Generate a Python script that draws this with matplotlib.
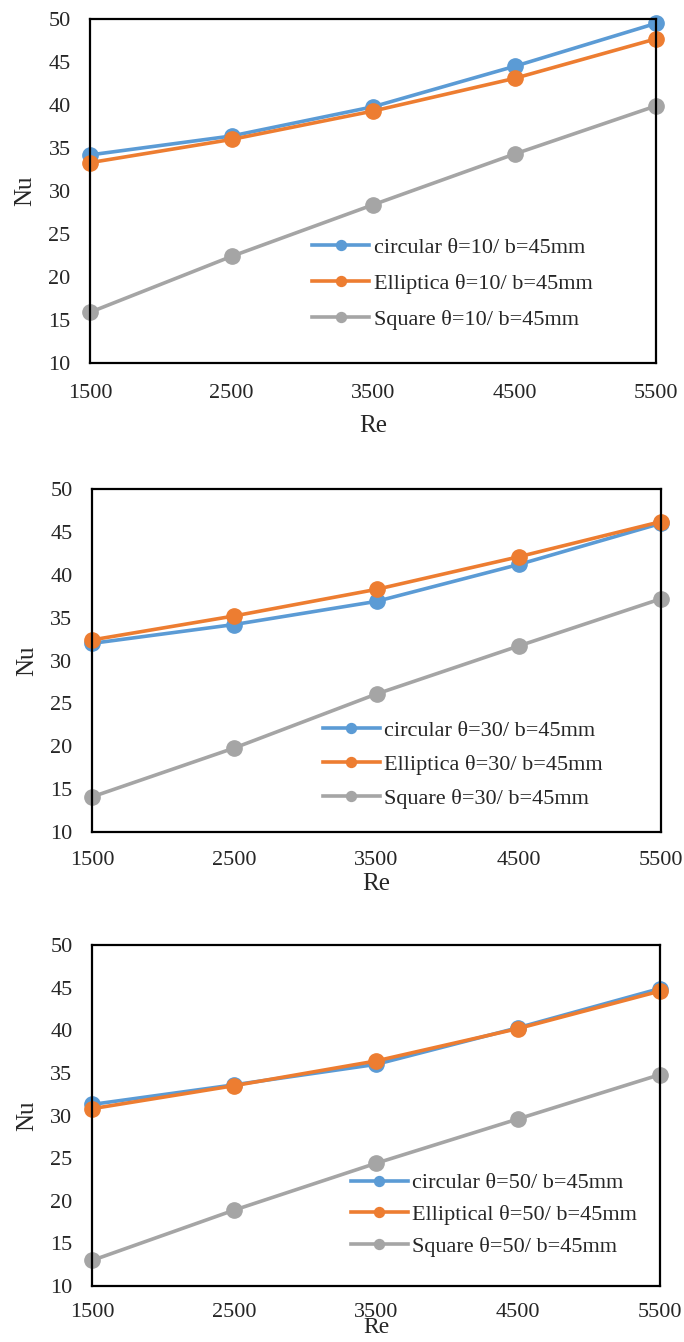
import matplotlib
matplotlib.use('Agg')
import matplotlib.pyplot as plt

re_vals = [1500, 2500, 3500, 4500, 5500]
y_ticks = [10, 15, 20, 25, 30, 35, 40, 45, 50]

# theta = 10
circ_10 = [34.2, 36.4, 39.8, 44.5, 49.5]
ell_10 = [33.3, 36.0, 39.3, 43.1, 47.7]
sq_10 = [15.9, 22.4, 28.4, 34.3, 39.9]

# theta = 30
circ_30 = [32.0, 34.2, 36.9, 41.2, 46.0]
ell_30 = [32.4, 35.2, 38.3, 42.1, 46.2]
sq_30 = [14.1, 19.8, 26.1, 31.7, 37.2]

# theta = 50
circ_50 = [31.3, 33.6, 36.0, 40.3, 44.9]
ell_50 = [30.8, 33.5, 36.4, 40.2, 44.6]
sq_50 = [13.0, 18.9, 24.4, 29.6, 34.8]

labels_10 = ['circular θ=10/ b=45mm', 'Elliptica θ=10/ b=45mm', 'Square θ=10/ b=45mm']
labels_30 = ['circular θ=30/ b=45mm', 'Elliptica θ=30/ b=45mm', 'Square θ=30/ b=45mm']
labels_50 = ['circular θ=50/ b=45mm', 'Elliptical θ=50/ b=45mm', 'Square θ=50/ b=45mm']

colors = ['#5B9BD5', '#ED7D31', '#A5A5A5']
text_col = '#262626'

plt.rcParams['font.family'] = ['Liberation Serif', 'DejaVu Serif']

fig = plt.figure(figsize=(6.84, 13.42), dpi=100)

# axes rect, series, labels, legend anchor (center left), label spacing,
# x tick pad, Re label y, Re font size
panels = [
    ([0.1316, 0.7295, 0.8275, 0.2563], (circ_10, ell_10, sq_10), labels_10, (0.393, 0.231), 0.68, 15, -0.151, 18),
    ([0.1345, 0.3800, 0.8319, 0.2556], (circ_30, ell_30, sq_30), labels_30, (0.406, 0.196), 0.61, 14, -0.118, 18),
    ([0.1345, 0.0417, 0.8304, 0.2541], (circ_50, ell_50, sq_50), labels_50, (0.456, 0.209), 0.50, 12, -0.092, 17),
]

for rect, series, labels, anchor, lspace, xpad, re_y, re_fs in panels:
    ax = fig.add_axes(rect)
    for vals, c, lab in zip(series, colors, labels):
        ax.plot(re_vals, vals, color=c, lw=2.6, marker='o', ms=11, label=lab,
                clip_on=False)
    ax.set_xlim(1500, 5500)
    ax.set_ylim(10, 50)
    ax.set_xticks(re_vals)
    ax.set_yticks(y_ticks)
    ax.tick_params(length=0, labelsize=16, labelcolor=text_col)
    ax.tick_params(axis='x', pad=xpad)
    ax.tick_params(axis='y', pad=14)
    for s in ax.spines.values():
        s.set_linewidth(1.6)
        s.set_color('black')
    ax.set_xlabel('Re', fontsize=re_fs, color=text_col)
    ax.xaxis.set_label_coords(0.5, re_y)
    ax.set_ylabel('Nu', fontsize=18, color=text_col)
    ax.yaxis.set_label_coords(-0.095, 0.5)
    ax.legend(loc='center left', bbox_to_anchor=anchor, frameon=False,
              fontsize=16, labelspacing=lspace, handlelength=2.55,
              handletextpad=0.2, borderaxespad=0, borderpad=0,
              markerscale=0.65, labelcolor=text_col)

fig.savefig('out.png', dpi=100)
